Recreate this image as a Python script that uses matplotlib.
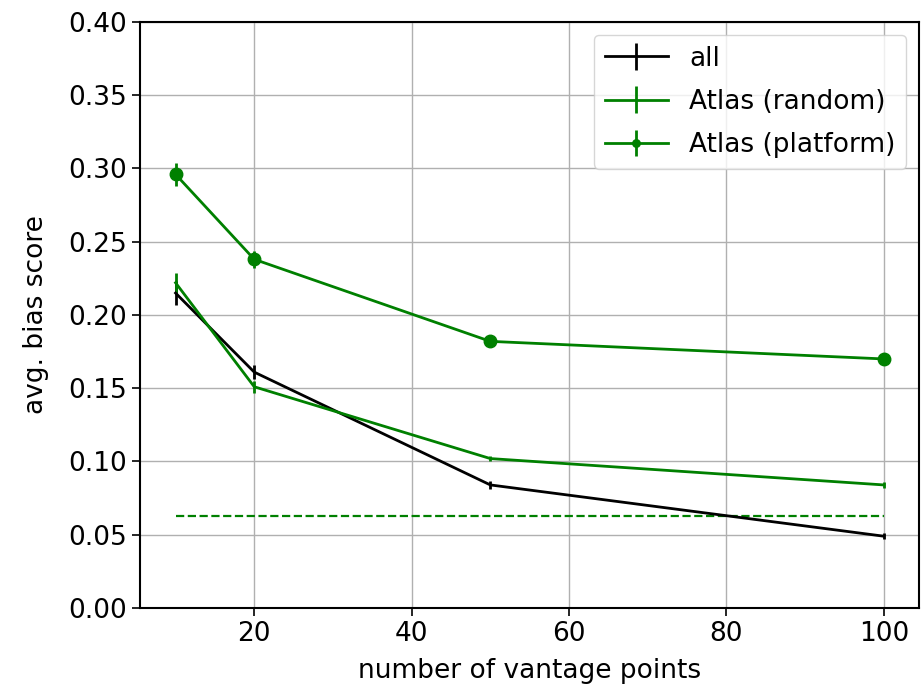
import numpy as np
import matplotlib
matplotlib.use("Agg")
import matplotlib.pyplot as plt

# --- data ---
vantage = [10, 20, 50, 100]

all_score = [0.215, 0.161, 0.084, 0.049]
all_err = [0.008, 0.005, 0.003, 0.002]

random_score = [0.222, 0.151, 0.102, 0.084]
random_err = [0.007, 0.004, 0.002, 0.002]

platform_score = [0.296, 0.238, 0.182, 0.170]
platform_err = [0.008, 0.006, 0.003, 0.003]

baseline = 0.063

plt.rcParams['font.size'] = 19
plt.rcParams['axes.linewidth'] = 1.5

fig = plt.figure(figsize=(9.22, 6.87), dpi=100)
ax = fig.add_axes([0.152, 0.115, 0.845, 0.853])

ax.errorbar(vantage, all_score, yerr=all_err, color="black", lw=2, elinewidth=2, label="all")
ax.errorbar(vantage, random_score, yerr=random_err, color="green", lw=2, elinewidth=2,
            label="Atlas (random)")
ax.errorbar(vantage, platform_score, yerr=platform_err, color="green", lw=2, elinewidth=2,
            marker="o", markersize=9, label="Atlas (platform)")
ax.plot([vantage[0], vantage[-1]], [baseline, baseline], color="green", lw=1.6, linestyle="--")

ax.set_ylim(0, 0.40)
ax.set_yticks(np.arange(0, 0.41, 0.05))
ax.set_xticks([20, 40, 60, 80, 100])
ax.tick_params(width=1.2, length=6)
ax.grid(True, lw=1.0)
ax.set_xlabel("number of vantage points", labelpad=8)
ax.set_ylabel("avg. bias score", labelpad=14)
ax.legend(loc="upper right", handlelength=2.4, labelspacing=0.65, markerscale=0.6)

fig.savefig("out.png", dpi=100)
